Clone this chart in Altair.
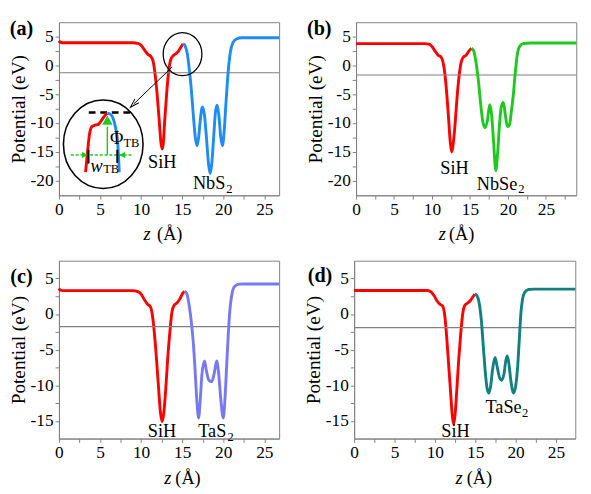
import altair as alt
import pandas as pd

# ---------------- data ----------------
# Panel (a): SiH / NbS2
A_SIH_Z = [0.0, 0.15, 0.45, 3.0, 6.0, 9.0, 9.6, 10.0, 10.4, 10.8, 11.2, 11.45, 11.7, 11.95, 12.2, 12.4, 12.55, 12.7,
           12.85, 13.1, 13.35, 13.6, 13.9, 14.2, 14.5, 14.8, 15.1]
A_SIH_V = [4.3, 4.05, 3.95, 3.95, 3.95, 3.95, 3.85, 3.5, 2.7, 1.95, 1.55, 0.8, -1.5, -5.0, -9.5, -13.2, -14.5, -13.5,
           -10.0, -5.0, -1.0, 1.0, 1.7, 2.0, 2.4, 3.1, 3.75]
A_NBS2_Z = [15.1, 15.35, 15.6, 15.85, 16.1, 16.35, 16.6, 16.8, 17.0, 17.2, 17.45, 17.7, 17.95, 18.2, 18.4, 18.6, 18.85,
            19.05, 19.25, 19.45, 19.7, 19.9, 20.1, 20.35, 20.6, 20.85, 21.15, 21.6, 22.2, 24.0, 26.8]
A_NBS2_V = [3.75, 3.4, 2.2, -0.5, -4.0, -8.5, -12.5, -13.9, -12.5, -9.5, -7.2, -8.5, -12.5, -17.0, -18.75, -17.0, -12.0,
            -8.0, -6.9, -8.5, -12.5, -13.9, -11.5, -6.0, -1.0, 2.2, 3.9, 4.6, 4.8, 4.8, 4.8]
A_FERMI = [-1.25]

# inset of panel (a) (drawn in the panel's own data coordinates)
A_INSET_RED_Z = [3.24, 3.48, 3.71, 4.01, 4.41, 4.8, 5.18, 5.58, 5.89]
A_INSET_RED_V = [-18.5, -14.95, -11.97, -10.6, -10.33, -10.2, -9.5, -8.7, -8.26]
A_INSET_BLUE_Z = [5.89, 6.28, 6.67, 6.94, 7.14, 7.26, 7.34]
A_INSET_BLUE_V = [-8.26, -8.46, -9.5, -11.15, -13.3, -16.0, -18.5]
A_ELLIPSE = [(5.39, -13.65)]
A_CIRCLE = [(15.04, 1.97)]
A_POINTER = [(13.77, -0.27, 9.09, -6.68)]
A_DASH = [(3.63, 8.67, -8.15)]
A_PHI_ARROW = [(5.89, -15.5, -10.6)]
A_PHI_HEAD = [(5.89, -9.5)]
A_W_LINE = [(1.45, 9.0, -15.5)]
A_W_HEAD_R = [(3.16, -15.5)]
A_W_HEAD_L = [(7.72, -15.5)]
A_W_TICKS = [(3.6, -14.6, -17.0), (7.1, -14.6, -16.9)]

# Panel (b): SiH / NbSe2
B_SIH_Z = [0.0, 3.0, 6.0, 9.0, 9.6, 10.0, 10.4, 10.8, 11.2, 11.45, 11.7, 11.95, 12.2, 12.42, 12.6, 12.8, 13.05, 13.3,
           13.55, 13.85, 14.1, 14.5, 14.8, 15.2]
B_SIH_V = [3.8, 3.8, 3.8, 3.8, 3.7, 3.3, 2.5, 1.8, 1.45, 0.6, -1.5, -5.0, -9.5, -13.5, -15.0, -13.5, -10.0, -5.5,
           -2.0, 0.6, 1.4, 1.8, 2.4, 3.0]
B_NBSE2_Z = [15.2, 15.5, 15.8, 16.1, 16.4, 16.7, 17.0, 17.3, 17.6, 17.85, 18.1, 18.4, 18.65, 18.9, 19.15, 19.4, 19.65,
             19.95, 20.2, 20.45, 20.7, 20.95, 21.2, 21.5, 22.0, 23.0, 29.0]
B_NBSE2_V = [3.0, 2.5, 0.5, -2.5, -6.5, -9.8, -10.8, -9.5, -6.8, -8.5, -13.0, -18.2, -15.0, -10.0, -7.0, -6.4, -8.5,
             -10.6, -10.3, -8.0, -5.2, -1.5, 1.6, 3.2, 3.8, 3.9, 3.9]
B_FERMI = [-1.65]

# Panel (c): SiH / TaS2
C_SIH_Z = [0.0, 0.15, 0.45, 3.0, 6.0, 9.0, 9.6, 10.0, 10.4, 10.8, 11.1, 11.35, 11.6, 11.85, 12.1, 12.35, 12.55, 12.75,
           13.0, 13.25, 13.5, 13.75, 14.0, 14.4, 14.75, 15.05, 15.3]
C_SIH_V = [3.6, 3.35, 3.3, 3.3, 3.3, 3.3, 3.15, 2.8, 2.0, 1.35, 1.1, 0.0, -2.5, -6.0, -10.0, -13.8, -15.1, -14.0,
           -10.5, -6.0, -2.5, 0.3, 1.2, 1.6, 2.2, 2.9, 3.2]
C_TAS2_Z = [15.3, 15.55, 15.85, 16.1, 16.35, 16.6, 16.8, 17.0, 17.2, 17.4, 17.72, 17.95, 18.25, 18.6, 18.9, 19.2,
            19.45, 19.7, 20.0, 20.2, 20.4, 20.6, 20.8, 21.05, 21.4, 21.9, 22.5, 26.8]
C_TAS2_V = [3.2, 2.9, 1.2, -1.0, -4.0, -8.5, -12.5, -14.6, -12.0, -8.5, -6.6, -8.0, -9.3, -9.5, -8.3, -6.6,
            -8.5, -12.0, -14.6, -12.0, -7.5, -3.0, 0.5, 2.8, 3.9, 4.2, 4.22, 4.22]
C_FERMI = [-1.76]

# Panel (d): SiH / TaSe2
D_SIH_Z = [0.0, 3.0, 6.0, 9.0, 9.5, 9.9, 10.3, 10.65, 10.95, 11.2, 11.45, 11.7, 11.95, 12.15, 12.32, 12.5, 12.7,
           12.95, 13.2, 13.45, 13.7, 14.05, 14.4, 14.7, 14.96]
D_SIH_V = [3.32, 3.32, 3.32, 3.32, 3.15, 2.6, 1.8, 1.35, 1.15, 0.0, -3.0, -7.0, -11.0, -14.2, -15.45, -14.2, -11.0,
           -6.5, -2.8, 0.0, 1.2, 1.55, 1.9, 2.4, 2.8]
D_TASE2_Z = [14.96, 15.2, 15.5, 15.75, 16.0, 16.25, 16.45, 16.67, 16.9, 17.15, 17.45, 17.7, 18.0, 18.25, 18.55, 18.8,
             18.97, 19.15, 19.4, 19.76, 20.0, 20.25, 20.45, 20.65, 20.85, 21.1, 21.6, 22.3, 27.4]
D_TASE2_V = [2.8, 2.6, 1.5, -0.8, -4.5, -8.2, -10.3, -11.1, -10.2, -7.8, -6.1, -7.3, -8.9, -9.3, -8.5, -6.5,
             -5.9, -6.8, -9.2, -11.1, -10.2, -7.5, -3.8, 0.0, 2.0, 3.0, 3.45, 3.5, 3.5]
D_FERMI = [-1.9]

# text annotations (z, V, text)
A_LABELS = [(10.85, -17.84, "SiH"), (16.3, -21.48, "NbS")]
A_SUBS = [(20.35, -22.15, "2")]
B_LABELS = [(11.1, -18.8, "SiH"), (15.9, -21.5, "NbSe")]
B_SUBS = [(21.35, -22.15, "2")]
C_LABELS = [(10.82, -17.3, "SiH"), (16.95, -17.3, "TaS")]
C_SUBS = [(20.5, -17.85, "2")]
D_LABELS = [(10.79, -17.3, "SiH"), (16.27, -13.86, "TaSe")]
D_SUBS = [(20.8, -14.4, "2")]
A_INSET_TEXT = [(6.2, -13.56, "Φ")]
A_INSET_ITALIC = [(3.83, -18.4, "w")]
A_INSET_SUBS = [(7.84, -14.1, "TB"), (5.38, -18.6, "TB")]

PANEL_TAGS = {"a": [(-4.56, 6.33, "(a)")], "b": [(-4.85, 6.33, "(b)")],
              "c": [(-4.56, 5.24, "(c)")], "d": [(-4.23, 5.34, "(d)")]}
XTITLE_Z = {"a": [(10.3, -30.2, "z")], "b": [(10.9, -30.2, "z")], "c": [(12.8, -23.9, "z")], "d": [(12.55, -23.9, "z")]}
XTITLE_REST = {"a": [(11.94, -30.2, "(Å)")], "b": [(12.24, -30.2, "(Å)")],
               "c": [(14.16, -23.9, "(Å)")], "d": [(13.94, -23.9, "(Å)")]}

# ---------------- styling ----------------
FONT = "Liberation Serif, Times New Roman, serif"
GRAY = "#808080"
RED = "#ff0000"
BLUE = "#1e8cf5"
GREEN = "#1ec81e"
LAVENDER = "#7878f2"
TEAL = "#11807f"
ELLIPSE_PATH = "M -0.9 0 A 0.9 1 0 1 0 0.9 0 A 0.9 1 0 1 0 -0.9 0 Z"
CHEVRON_PATH = "M -0.6 1 L 0 -1 L 0.6 1"
AXIS_STYLE = dict(labelFont=FONT, labelFontSize=18, labelColor="black", titleFont=FONT, titleFontSize=20,
                  titleFontWeight="normal", titleColor="black", domainColor=GRAY, tickColor=GRAY, tickSize=4,
                  grid=False, labelPadding=2, labelFlush=False, labelOverlap=False)


def frame(rows, cols):
    return pd.DataFrame(rows, columns=cols)


def make_panel(key, xmax, ydom, w, h, red, other, other_color, fermi, labels, subs, extra=None):
    xs = alt.Scale(domain=[0, xmax], nice=False, zero=False)
    ys = alt.Scale(domain=ydom, nice=False, zero=False)
    xvals = [i * 2.5 for i in range(0, int(xmax / 2.5) + 1)]
    yvals = [v * 2.5 for v in range(int(ydom[0] / 2.5) + 1, int(ydom[1] / 2.5))]
    lab = "datum.value % 5 == 0 ? '' + datum.value : ''"
    xaxis = alt.Axis(values=xvals, labelExpr=lab, title=None, **AXIS_STYLE)
    yaxis = alt.Axis(values=yvals, labelExpr=lab, title="Potential (eV)", titlePadding=2, **AXIS_STYLE)

    def X(f):
        return alt.X(f, type="quantitative", scale=xs, axis=xaxis)

    def Y(f):
        return alt.Y(f, type="quantitative", scale=ys, axis=yaxis)

    layers = []
    layers.append(alt.Chart(pd.DataFrame({"z": red[0], "V": red[1]}))
                  .mark_line(color=RED, strokeWidth=3, interpolate="monotone")
                  .encode(x=X("z"), y=Y("V")))
    layers.append(alt.Chart(frame(list(zip(fermi)), ["V"])).mark_rule(color=GRAY, strokeWidth=1.2)
                  .encode(y=Y("V")))
    layers.append(alt.Chart(pd.DataFrame({"z": other[0], "V": other[1]}))
                  .mark_line(color=other_color, strokeWidth=3, interpolate="monotone")
                  .encode(x=X("z"), y=Y("V")))

    def text(rows, size, style="normal", weight="normal", align="left", baseline="alphabetic"):
        return (alt.Chart(frame(rows, ["z", "V", "t"]))
                .mark_text(font=FONT, fontSize=size, fontStyle=style, fontWeight=weight, align=align,
                           baseline=baseline, color="black")
                .encode(x=X("z"), y=Y("V"), text="t:N"))

    layers.append(text(labels, 19))
    layers.append(text(subs, 13))
    layers.append(text(PANEL_TAGS[key], 21, weight="bold", align="center", baseline="middle"))
    layers.append(text(XTITLE_Z[key], 19, style="italic"))
    layers.append(text(XTITLE_REST[key], 19))
    if extra is not None:
        layers += extra(X, Y, text)
    return alt.layer(*layers).properties(width=w, height=h, view=alt.ViewBackground(stroke=GRAY, strokeWidth=1))


def inset_layers(X, Y, text):
    L = []
    L.append(alt.Chart(frame(A_ELLIPSE, ["z", "V"])).mark_point(
        shape=ELLIPSE_PATH, size=8464, filled=False, color="black", strokeWidth=1.6, opacity=1)
        .encode(x=X("z"), y=Y("V")))
    L.append(alt.Chart(frame(A_CIRCLE, ["z", "V"])).mark_point(
        shape=ELLIPSE_PATH, size=2000, filled=False, color="black", strokeWidth=1.3, opacity=1)
        .encode(x=X("z"), y=Y("V")))
    L.append(alt.Chart(frame(A_POINTER, ["z1", "V1", "z2", "V2"])).mark_rule(color="black", strokeWidth=1)
             .encode(x=X("z1"), x2="z2", y=Y("V1"), y2="V2"))
    L.append(alt.Chart(frame([(A_POINTER[0][2], A_POINTER[0][3])], ["z", "V"])).mark_point(
        shape=CHEVRON_PATH, size=90, angle=225, filled=False, color="black", strokeWidth=1, opacity=1)
        .encode(x=X("z"), y=Y("V")))
    L.append(alt.Chart(frame(A_DASH, ["z1", "z2", "V"])).mark_rule(
        color="black", strokeWidth=2.5, strokeDash=[7, 5]).encode(x=X("z1"), x2="z2", y=Y("V")))
    L.append(alt.Chart(frame(A_W_LINE, ["z1", "z2", "V"])).mark_rule(
        color=GREEN, strokeWidth=1.5, strokeDash=[3, 2]).encode(x=X("z1"), x2="z2", y=Y("V")))
    L.append(alt.Chart(pd.DataFrame({"z": A_INSET_RED_Z, "V": A_INSET_RED_V}))
             .mark_line(color=RED, strokeWidth=3, interpolate="monotone").encode(x=X("z"), y=Y("V")))
    L.append(alt.Chart(pd.DataFrame({"z": A_INSET_BLUE_Z, "V": A_INSET_BLUE_V}))
             .mark_line(color=BLUE, strokeWidth=3, interpolate="monotone").encode(x=X("z"), y=Y("V")))
    L.append(alt.Chart(frame(A_PHI_ARROW, ["z", "V1", "V2"])).mark_rule(color=GREEN, strokeWidth=1.5)
             .encode(x=X("z"), y=Y("V1"), y2="V2"))
    L.append(alt.Chart(frame(A_PHI_HEAD, ["z", "V"])).mark_point(
        shape="triangle-up", size=120, filled=True, color=GREEN, opacity=1).encode(x=X("z"), y=Y("V")))
    L.append(alt.Chart(frame(A_W_HEAD_R, ["z", "V"])).mark_point(
        shape="triangle-right", size=45, filled=True, color=GREEN, opacity=1).encode(x=X("z"), y=Y("V")))
    L.append(alt.Chart(frame(A_W_HEAD_L, ["z", "V"])).mark_point(
        shape="triangle-left", size=45, filled=True, color=GREEN, opacity=1).encode(x=X("z"), y=Y("V")))
    L.append(alt.Chart(frame(A_W_TICKS, ["z", "V1", "V2"])).mark_rule(color="black", strokeWidth=2)
             .encode(x=X("z"), y=Y("V1"), y2="V2"))
    L.append(text(A_INSET_TEXT, 19))
    L.append(text(A_INSET_ITALIC, 19, style="italic"))
    L.append(text(A_INSET_SUBS, 13))
    return L


pa = make_panel("a", 26.8, [-22.5, 7.5], 229, 180, (A_SIH_Z, A_SIH_V), (A_NBS2_Z, A_NBS2_V), BLUE,
                A_FERMI, A_LABELS, A_SUBS, extra=inset_layers)
pb = make_panel("b", 29.0, [-22.5, 7.5], 229, 180, (B_SIH_Z, B_SIH_V), (B_NBSE2_Z, B_NBSE2_V), GREEN,
                B_FERMI, B_LABELS, B_SUBS)
pc = make_panel("c", 26.8, [-17.5, 7.5], 229, 185, (C_SIH_Z, C_SIH_V), (C_TAS2_Z, C_TAS2_V), LAVENDER,
                C_FERMI, C_LABELS, C_SUBS)
pd_ = make_panel("d", 27.4, [-17.5, 7.5], 230, 185, (D_SIH_Z, D_SIH_V), (D_TASE2_Z, D_TASE2_V), TEAL,
                 D_FERMI, D_LABELS, D_SUBS)

top = alt.hconcat(pa, pb, spacing=20)
bottom = alt.hconcat(pc, pd_, spacing=18)
chart = (alt.vconcat(top, bottom, spacing=16)
         .properties(padding=0, background="white")
         .configure_view(stroke=GRAY, strokeWidth=1))

chart.save("out.html", embed_options={"renderer": "svg", "actions": False})
